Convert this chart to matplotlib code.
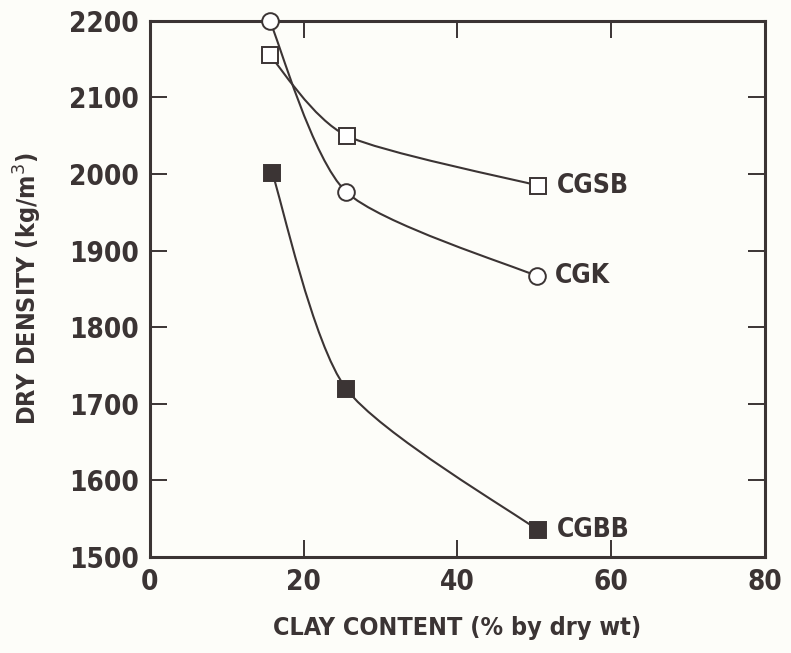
import matplotlib.pyplot as plt
from matplotlib.path import Path
import matplotlib.patches as mpatches
from matplotlib import font_manager
import numpy as np

# clay content (% by dry wt) and dry density (kg/m3)
cgk_x = [15.6, 25.5, 50.3]
cgk_y = [2200, 1977, 1867]
cgsb_x = [15.6, 25.6, 50.5]
cgsb_y = [2155, 2050, 1985]
cgbb_x = [15.9, 25.5, 50.5]
cgbb_y = [2002, 1720, 1535]

x_ticks = [0, 20, 40, 60, 80]
y_ticks = [1500, 1600, 1700, 1800, 1900, 2000, 2100, 2200]

INK = '#3b3434'


def font(size, weight='bold'):
    return font_manager.FontProperties(family='DejaVu Sans', weight=weight,
                                       stretch='condensed', size=size)


def smooth_path(xs, ys, k=8.0):
    # catmull-rom style curve through the points, drawn as cubic beziers
    pts = np.column_stack([xs, ys]).astype(float)
    ext = np.vstack([pts[0], pts, pts[-1]])
    verts = [pts[0]]
    codes = [Path.MOVETO]
    for i in range(1, len(ext) - 2):
        p0, p1, p2, p3 = ext[i - 1], ext[i], ext[i + 1], ext[i + 2]
        verts += [p1 + (p2 - p0) / k, p2 - (p3 - p1) / k, p2]
        codes += [Path.CURVE4] * 3
    return Path(verts, codes)


fig = plt.figure(figsize=(7.91, 6.53), dpi=100)
fig.patch.set_facecolor('#fdfdf9')
ax = fig.add_axes([0.1896, 0.147, 0.7774, 0.821])
ax.set_facecolor('#fdfdf9')

series = [
    (cgk_x, cgk_y, 'o', 'white', 'CGK', 12),
    (cgsb_x, cgsb_y, 's', 'white', 'CGSB', 11),
    (cgbb_x, cgbb_y, 's', INK, 'CGBB', 11),
]
for xs, ys, mk, fc, name, ms in series:
    ax.add_patch(mpatches.PathPatch(smooth_path(xs, ys), fill=False,
                                    edgecolor=INK, lw=1.5, zorder=2))
    ax.plot(xs, ys, linestyle='none', marker=mk, markersize=ms,
            markerfacecolor=fc, markeredgecolor=INK, markeredgewidth=1.4,
            zorder=3, clip_on=False)
    ax.text(xs[-1] + 2.4, ys[-1], name, ha='left', va='center',
            fontproperties=font(19), color=INK)

ax.set_xlim(0, 80)
ax.set_ylim(1500, 2200)
ax.set_xticks(x_ticks)
ax.set_yticks(y_ticks)
ax.tick_params(direction='in', length=12, width=1.4, color=INK,
               top=True, right=True, labelcolor=INK, pad=8)
for lab in ax.get_xticklabels() + ax.get_yticklabels():
    lab.set_fontproperties(font(20))
for sp in ax.spines.values():
    sp.set_linewidth(2.2)
    sp.set_color(INK)

ax.set_xlabel('CLAY CONTENT (% by dry wt)', fontproperties=font(18),
              color=INK, labelpad=14)
ax.set_ylabel('DRY DENSITY (kg/m$^3$)', fontproperties=font(18),
              color=INK, labelpad=18)

plt.savefig('out.png', dpi=100, facecolor=fig.get_facecolor())
